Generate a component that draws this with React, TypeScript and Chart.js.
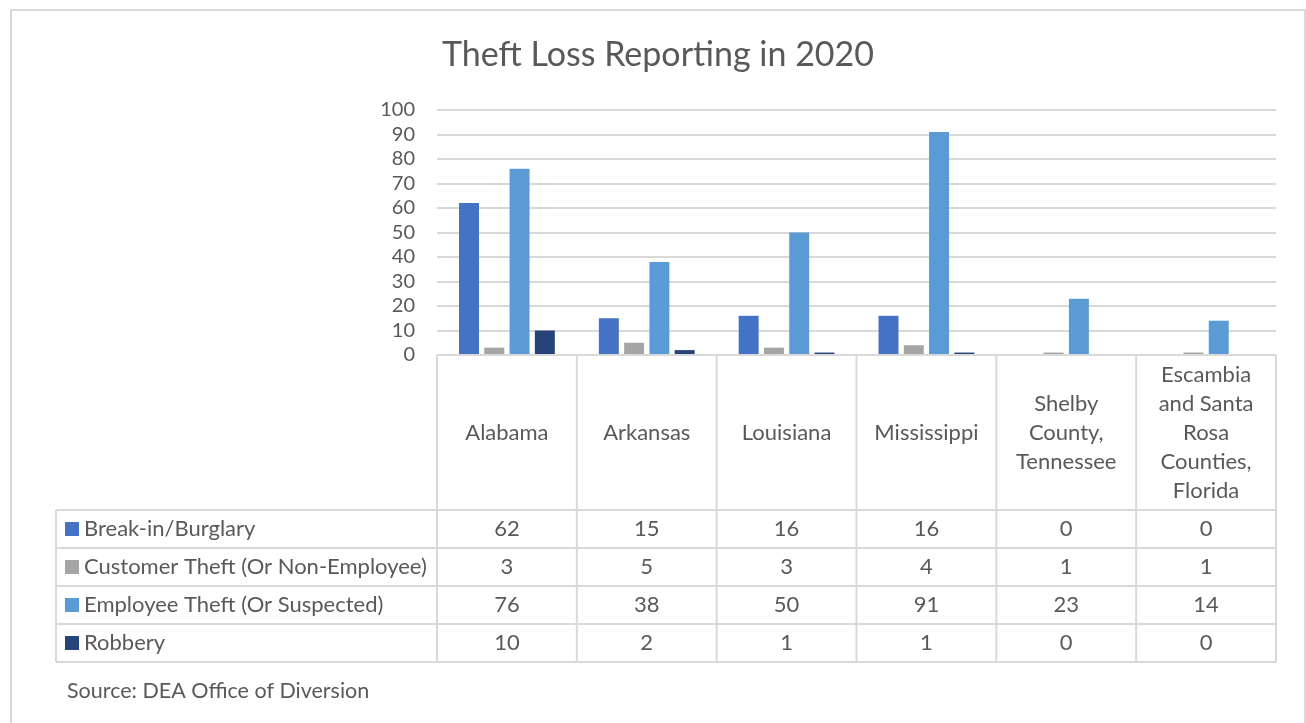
import React, { useEffect, useRef } from "react";
import { Chart, registerables } from "chart.js";

Chart.register(...registerables);

const title = "Theft Loss Reporting in 2020";
const source = "Source: DEA Office of Diversion";
const categories = [
  "Alabama",
  "Arkansas",
  "Louisiana",
  "Mississippi",
  "Shelby County, Tennessee",
  "Escambia and Santa Rosa Counties, Florida",
];
const categoryLines = [
  ["Alabama"],
  ["Arkansas"],
  ["Louisiana"],
  ["Mississippi"],
  ["Shelby", "County,", "Tennessee"],
  ["Escambia", "and Santa", "Rosa", "Counties,", "Florida"],
];
const seriesNames = [
  "Break-in/Burglary",
  "Customer Theft (Or Non-Employee)",
  "Employee Theft (Or Suspected)",
  "Robbery",
];
const breakIn = [62, 15, 16, 16, 0, 0];
const customerTheft = [3, 5, 3, 4, 1, 1];
const employeeTheft = [76, 38, 50, 91, 23, 14];
const robbery = [10, 2, 1, 1, 0, 0];
const seriesColors = ["#4472C4", "#A5A5A5", "#5B9BD5", "#264478"];
const yTicks = [0, 10, 20, 30, 40, 50, 60, 70, 80, 90, 100];

const FONT = "Lato, 'Noto Sans', sans-serif";
const TEXT = "#595959";
const LINE = "#D9D9D9";

const tablePlugin = {
  id: "dataTable",
  afterDraw(chart: any) {
    const ctx = chart.ctx as CanvasRenderingContext2D;
    const area = chart.chartArea;
    const x = chart.scales.x;
    const n = categories.length;
    const colW = (area.right - area.left) / n;
    const headerTop = area.bottom;
    const headerBottom = headerTop + 155;
    const rowH = 38;
    const tableLeft = 56;
    const tableBottom = headerBottom + rowH * seriesNames.length;
    ctx.save();
    // outer border
    ctx.strokeStyle = LINE;
    ctx.lineWidth = 2;
    ctx.strokeRect(11, 10, 1294, 760);

    // title
    ctx.fillStyle = TEXT;
    ctx.font = `34px ${FONT}`;
    ctx.textAlign = "center";
    ctx.textBaseline = "middle";
    ctx.fillText(title, 658, 55);

    // table lines
    ctx.strokeStyle = LINE;
    ctx.lineWidth = 2;
    ctx.beginPath();
    for (let i = 0; i <= n; i++) {
      const px = area.left + colW * i;
      ctx.moveTo(px, headerTop);
      ctx.lineTo(px, tableBottom);
    }
    ctx.moveTo(area.left, headerTop);
    ctx.lineTo(area.right, headerTop);
    for (let r = 0; r <= seriesNames.length; r++) {
      const py = headerBottom + rowH * r;
      ctx.moveTo(tableLeft, py);
      ctx.lineTo(area.right, py);
    }
    ctx.moveTo(tableLeft, headerBottom);
    ctx.lineTo(tableLeft, tableBottom);
    ctx.stroke();

    // header labels
    ctx.fillStyle = TEXT;
    ctx.font = `22px ${FONT}`;
    ctx.textAlign = "center";
    ctx.textBaseline = "middle";
    const lh = 29;
    const midY = (headerTop + headerBottom) / 2;
    categoryLines.forEach((lines, i) => {
      const cx = x.getPixelForValue(i);
      const start = midY - ((lines.length - 1) * lh) / 2;
      lines.forEach((ln, k) => ctx.fillText(ln, cx, start + k * lh));
    });

    // rows
    const datasets = chart.data.datasets;
    seriesNames.forEach((name, r) => {
      const cy = headerBottom + rowH * r + rowH / 2;
      ctx.fillStyle = seriesColors[r];
      ctx.fillRect(65, cy - 7, 14, 14);
      ctx.fillStyle = TEXT;
      ctx.textAlign = "left";
      ctx.fillText(name, 84, cy);
      ctx.textAlign = "center";
      (datasets[r].data as number[]).forEach((v, i) => {
        ctx.fillText(String(v), x.getPixelForValue(i), cy);
      });
    });

    // source
    ctx.textAlign = "left";
    ctx.font = `21.5px ${FONT}`;
    ctx.fillText(source, 67, 691);
    ctx.restore();
  },
};

export default function App() {
  const ref = useRef<HTMLCanvasElement>(null);
  useEffect(() => {
    if (!ref.current) return;
    const chart = new Chart(ref.current, {
      type: "bar",
      data: {
        labels: categories,
        datasets: [breakIn, customerTheft, employeeTheft, robbery].map((d, i) => ({
          label: seriesNames[i],
          data: d,
          backgroundColor: seriesColors[i],
          categoryPercentage: 0.723,
          barPercentage: 0.79,
        })),
      },
      options: {
        animation: false,
        responsive: false,
        layout: { padding: { left: 0, right: 30, top: 110, bottom: 368 } },
        plugins: {
          legend: { display: false },
          title: { display: false },
          tooltip: { enabled: false },
        },
        scales: {
          x: { display: false },
          y: {
            min: 0,
            max: 100,
            afterBuildTicks: (s: any) => {
              s.ticks = yTicks.map((v) => ({ value: v }));
            },
            afterFit: (s: any) => {
              s.width = 437;
            },
            border: { display: false },
            grid: { color: LINE, lineWidth: 2, drawTicks: false },
            ticks: {
              color: TEXT,
              font: { family: FONT, size: 20 },
              padding: 22,
              autoSkip: false,
            },
          },
        },
      },
      plugins: [tablePlugin],
    });
    return () => chart.destroy();
  }, []);
  return (
    <div style={{ position: "absolute", left: 0, top: 0, width: 1306, height: 723, background: "#fff" }}>
      <canvas ref={ref} width={1306} height={723} style={{ display: "block" }} />
    </div>
  );
}
